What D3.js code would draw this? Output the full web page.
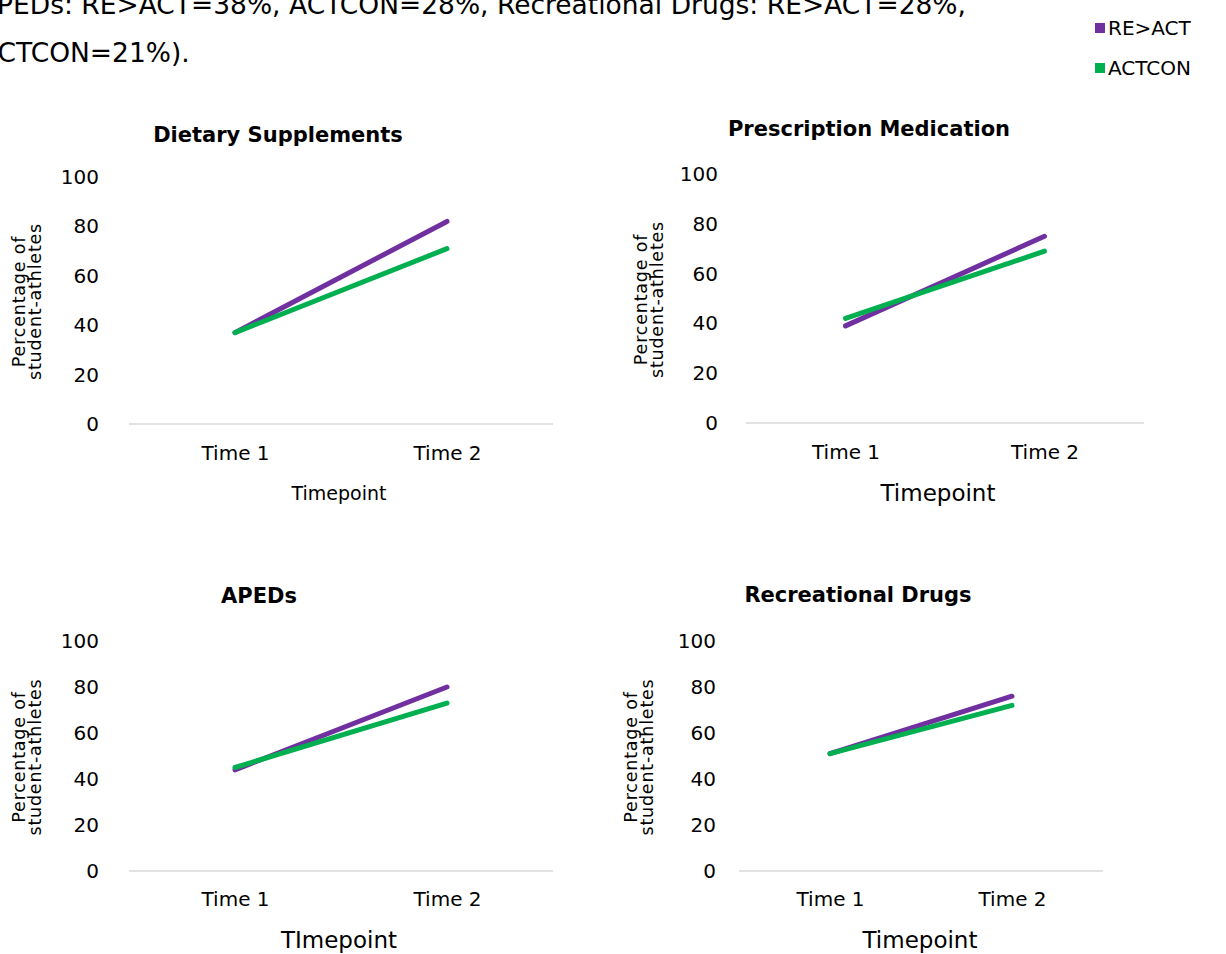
<!DOCTYPE html>
<html>
<head>
<meta charset="utf-8">
<script src="https://cdn.jsdelivr.net/npm/d3@7"></script>
<style>
  html, body { margin: 0; padding: 0; background: #ffffff; }
  svg { display: block; }
  text { font-family: "Century Gothic", "DejaVu Sans", sans-serif; fill: #000; }
</style>
</head>
<body>
<svg id="chart" width="1226" height="954"></svg>
<script>
// ---- data ----
const timepoints = ["Time 1", "Time 2"];
const yTicks = [0, 20, 40, 60, 80, 100];
const seriesNames = ["RE>ACT", "ACTCON"];
const panelTitles = ["Dietary Supplements", "Prescription Medication", "APEDs", "Recreational Drugs"];
const xAxisTitles = ["Timepoint", "Timepoint", "TImepoint", "Timepoint"];
const yAxisTitle = ["Percentage of", "student-athletes"];
// percentage of student-athletes at Time 1 / Time 2, per panel
const reActValues = [[37, 82], [39, 75], [44, 80], [51, 76]];
const actconValues = [[37, 71], [42, 69], [45, 73], [51, 72]];
const captionLines = [
  "APEDs: RE>ACT=38%, ACTCON=28%, Recreational Drugs: RE>ACT=28%,",
  "ACTCON=21%)."
];

// ---- layout ----
const colors = ["#7030a0", "#00b050"];
const layout = [
  { x0: 129, x1: 553, yBase: 424, yTop: 177, tickX: 99, titleX: 278, titleY: 142, catY: 461, xtX: 339, xtY: 500, xtSize: 19, ytX: 19 },
  { x0: 746, x1: 1144, yBase: 423, yTop: 174, tickX: 718, titleX: 869, titleY: 136, catY: 460, xtX: 938, xtY: 501, xtSize: 23, ytX: 641 },
  { x0: 129, x1: 553, yBase: 871, yTop: 641, tickX: 99, titleX: 259, titleY: 603, catY: 907, xtX: 339, xtY: 948, xtSize: 23, ytX: 19 },
  { x0: 739, x1: 1103, yBase: 871, yTop: 641, tickX: 716, titleX: 858, titleY: 602, catY: 907, xtX: 920, xtY: 948, xtSize: 23, ytX: 631 }
];

const svg = d3.select("#chart");

// caption paragraph running off the top-left edge
const cap = svg.append("g").attr("font-size", 26.5);
const capLeft = [13, -2];     // where the visible part of each line begins
const capHidden = ["AP", "A"]; // leading characters that fall off the left edge
captionLines.forEach((line, i) => {
  const probe = cap.append("text").text(capHidden[i]);
  const w = probe.node().getComputedTextLength();
  probe.remove();
  cap.append("text")
    .attr("x", capLeft[i] - w)
    .attr("y", i === 0 ? 14 : 62)
    .attr("fill", "#1a1a1a")
    .text(line);
});

// legend
const legend = svg.append("g");
seriesNames.forEach((name, i) => {
  const cy = 28 + i * 40;
  legend.append("rect")
    .attr("x", 1095).attr("y", cy - 5).attr("width", 10).attr("height", 10)
    .attr("fill", colors[i]);
  legend.append("text")
    .attr("x", 1108).attr("y", cy + 7)
    .attr("font-size", 20)
    .attr("fill", "#262626")
    .text(name);
});

// panels
panelTitles.forEach((title, p) => {
  const L = layout[p];
  const g = svg.append("g");

  const x = d3.scalePoint().domain(timepoints).range([L.x0, L.x1]).padding(0.5);
  const y = d3.scaleLinear().domain([0, 100]).range([L.yBase, L.yTop]);

  // title
  g.append("text")
    .attr("x", L.titleX).attr("y", L.titleY)
    .attr("text-anchor", "middle")
    .attr("font-size", 21).attr("font-weight", "bold")
    .text(title);

  // y axis labels
  const yAxis = g.append("g")
    .attr("transform", `translate(${L.tickX},0)`)
    .call(d3.axisLeft(y).tickValues(yTicks).tickSize(0).tickPadding(0));
  yAxis.select(".domain").remove();
  yAxis.selectAll("text")
    .attr("font-size", 20)
    .attr("fill", "#1a1a1a")
    .style("font-family", '"Century Gothic", "DejaVu Sans", sans-serif');

  // x axis: baseline + category labels
  const xAxis = g.append("g")
    .attr("transform", `translate(0,${L.yBase})`)
    .call(d3.axisBottom(x).tickSize(0).tickPadding(L.catY - L.yBase - 15));
  xAxis.select(".domain")
    .attr("d", `M${L.x0},0H${L.x1}`)
    .attr("stroke", "#d9d9d9").attr("stroke-width", 1.5);
  xAxis.selectAll("text")
    .attr("font-size", 20)
    .attr("fill", "#1a1a1a")
    .style("font-family", '"Century Gothic", "DejaVu Sans", sans-serif');

  // x axis title
  g.append("text")
    .attr("x", L.xtX).attr("y", L.xtY)
    .attr("text-anchor", "middle")
    .attr("font-size", L.xtSize)
    .attr("fill", "#1a1a1a")
    .text(xAxisTitles[p]);

  // y axis title (two lines, rotated)
  const yMid = (L.yBase + L.yTop) / 2 + 1;
  yAxisTitle.forEach((line, k) => {
    g.append("text")
      .attr("transform", `translate(${L.ytX + 6 + k * 16},${yMid}) rotate(-90)`)
      .attr("text-anchor", "middle")
      .attr("font-size", 17.5)
      .attr("letter-spacing", 0.8)
      .attr("fill", "#1a1a1a")
      .text(line);
  });

  // series lines (ACTCON drawn last so it sits on top)
  const seriesData = [reActValues[p], actconValues[p]];
  const line = d3.line().x((d, i) => x(timepoints[i])).y(d => y(d));
  seriesData.forEach((vals, s) => {
    g.append("path")
      .datum(vals)
      .attr("d", line)
      .attr("fill", "none")
      .attr("stroke", colors[s])
      .attr("stroke-width", 5)
      .attr("stroke-linecap", "round");
  });
});
</script>
</body>
</html>
